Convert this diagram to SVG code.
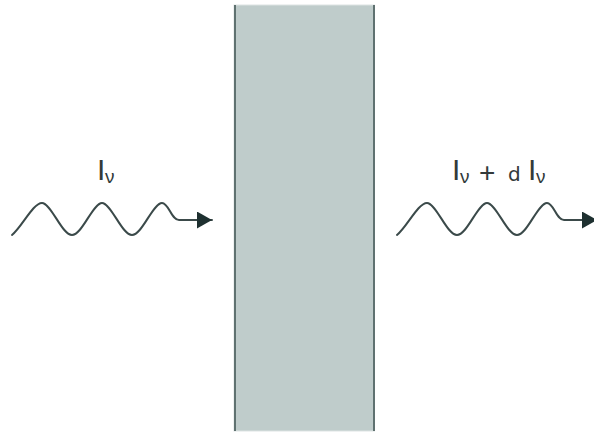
<svg xmlns="http://www.w3.org/2000/svg" width="594" height="432" viewBox="0 0 594 432">
<style>
.wave{fill:none;stroke:#3b4a4a;stroke-width:2;stroke-linecap:round;stroke-linejoin:round}
.lbl{font-family:"Liberation Sans","DejaVu Sans",sans-serif;fill:#333a3a}
.big{font-size:30px}
.sub{font-size:19px}
.plus{font-size:28px}
.sm{font-size:20px;font-family:"DejaVu Sans",sans-serif}
</style>
<defs>
<marker id="ah" markerWidth="16" markerHeight="18" refX="15" refY="8.5" orient="auto" markerUnits="userSpaceOnUse">
<path d="M0,0 L15,8.5 L0,17 Z" fill="#1e3030"/>
</marker>
</defs>
<rect width="594" height="432" fill="#ffffff"/>
<g id="slab">
<rect x="234" y="5" width="140.5" height="426" fill="#bfcccb" stroke="#dde4e3" stroke-width="1"/>
<line x1="235" y1="5" x2="235" y2="431" stroke="#5f7170" stroke-width="2"/>
<line x1="374" y1="5" x2="374" y2="431" stroke="#5f7170" stroke-width="2"/>
</g>
<g id="connectors">
<path id="wave-in" class="wave" marker-end="url(#ah)" d="M12,235 C22,227 33,203 42,203 C51,203 62,235 72,235 C82,235 93,203 102,203 C111,203 122,235 132,235 C142,235 153,203 162,203 C169,203 171,220 179,220 L212,220"/>
<path id="wave-out" class="wave" marker-end="url(#ah)" d="M397,235 C407,227 418,203 427,203 C436,203 447,235 457,235 C467,235 478,203 487,203 C496,203 507,235 517,235 C527,235 538,203 547,203 C554,203 556,220 564,220 L597,220"/>
</g>
<g id="label-in">
<text class="lbl big" x="97" y="180">I</text>
<text class="lbl sub" x="105" y="183">ν</text>
</g>
<g id="label-out">
<text class="lbl big" x="452" y="180">I</text>
<text class="lbl sub" x="460" y="183">ν</text>
<text class="lbl plus" x="479" y="182">+</text>
<text class="lbl sm" x="508" y="181">d</text>
<text class="lbl big" x="528" y="180">I</text>
<text class="lbl sub" x="536" y="183">ν</text>
</g>
</svg>
